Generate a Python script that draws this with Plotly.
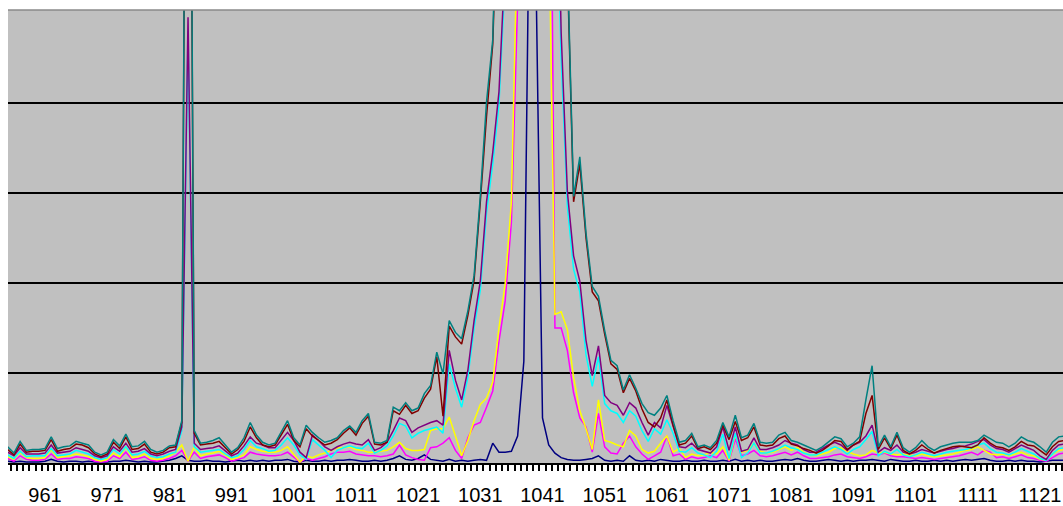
import plotly.graph_objects as go

# Channel / category positions (one point per integer step)
channels = list(range(955, 1126))

# Series values (units: gridlines every 100)
navy = [
    2, 1, 2, 1, 1, 1, 2, 4, 2, 1,
    2, 2, 1, 2, 1, 1, 1, 2, 2, 3,
    2, 1, 2, 1, 1, 2, 3, 5, 8, 3,
    2, 2, 3, 2, 2, 1, 2, 3, 2, 3,
    2, 3, 2, 3, 3, 4, 2, 1, 3, 2,
    2, 3, 2, 3, 3, 4, 3, 2, 2, 3,
    2, 3, 5, 8, 4, 3, 5, 9, 4, 3,
    2, 4, 2, 3, 2, 3, 4, 3, 22, 12,
    12, 13, 30, 113, 700, 520, 50, 20, 11, 6,
    4, 3, 3, 4, 5, 8, 3, 2, 3, 2,
    8, 3, 2, 3, 2, 4, 3, 2, 2, 3,
    2, 2, 3, 2, 2, 3, 2, 4, 2, 3,
    2, 3, 2, 2, 3, 4, 3, 5, 3, 2,
    2, 3, 4, 3, 2, 3, 2, 3, 3, 4,
    3, 2, 4, 3, 2, 2, 3, 2, 2, 3,
    2, 3, 2, 3, 4, 3, 4, 5, 3, 2,
    2, 3, 2, 3, 2, 2, 1, 2, 3, 3,
    3,
]

magenta = [
    5, 2, 8, 4, 3, 3, 4, 10, 4, 5,
    5, 7, 6, 5, 2, 1, 2, 8, 5, 12,
    4, 5, 7, 3, 2, 3, 5, 8, 14, 2,
    12, 5, 7, 8, 9, 6, 2, 4, 6, 12,
    10, 9, 8, 8, 9, 12, 6, 1, 5, 3,
    5, 7, 10, 12, 12, 13, 10, 9, 8, 8,
    7, 8, 10, 20, 9, 6, 4, 3, 17, 18,
    22, 28, 14, 5, 28, 42, 45, 62, 80, 135,
    180, 268, 570, 1000, 1000, 1000, 1000, 1000, 150, 150,
    125, 78, 50, 40, 12, 55, 18, 11, 10, 22,
    30, 18, 10, 4, 8, 12, 30, 8, 10, 4,
    7, 5, 6, 8, 6, 14, 2, 27, 8, 10,
    14, 8, 7, 8, 10, 12, 9, 12, 8, 5,
    5, 6, 7, 9, 10, 7, 6, 5, 7, 10,
    9, 11, 8, 7, 7, 6, 5, 6, 5, 4,
    5, 6, 7, 8, 10, 12, 9, 14, 12, 6,
    7, 5, 7, 9, 6, 5, 3, 2, 6, 10,
    11,
]

yellow = [
    7, 4, 12, 6, 5, 5, 6, 15, 6, 7,
    8, 10, 9, 7, 4, 2, 4, 11, 7, 18,
    6, 7, 10, 5, 4, 5, 8, 12, 20, 2,
    18, 8, 10, 11, 13, 9, 4, 6, 9, 18,
    15, 13, 12, 12, 14, 18, 10, 1, 8, 6,
    9, 11, 14, 17, 17, 18, 15, 14, 12, 12,
    13, 14, 18, 23, 16, 14, 14, 15, 36, 38,
    38, 51, 30, 8, 25, 47, 65, 72, 90, 150,
    199, 290, 600, 1000, 1000, 1000, 1000, 620, 165, 168,
    148, 95, 58, 38, 15, 70, 25, 23, 20, 18,
    36, 30, 15, 11, 13, 22, 30, 12, 16, 6,
    10, 8, 9, 12, 10, 18, 3, 31, 12, 14,
    22, 13, 11, 12, 15, 18, 14, 17, 12, 9,
    8, 10, 12, 16, 17, 13, 10, 8, 9, 14,
    11, 12, 10, 9, 10, 9, 8, 10, 8, 7,
    8, 9, 10, 12, 14, 15, 18, 14, 10, 9,
    10, 8, 10, 12, 9, 8, 4, 3, 10, 14,
    15,
]

cyan = [
    9, 5, 13, 7, 8, 8, 8, 16, 8, 9,
    10, 14, 12, 10, 6, 4, 6, 15, 10, 18,
    9, 10, 13, 8, 6, 7, 10, 12, 36, 480,
    18, 12, 13, 14, 15, 10, 6, 8, 15, 25,
    18, 16, 13, 14, 20, 28, 20, 9, 4, 26,
    20, 14, 6, 14, 17, 19, 17, 16, 22, 11,
    14, 19, 30, 44, 41, 28, 33, 36, 38, 40,
    33, 110, 83, 62, 95, 150, 192, 278, 332, 398,
    540, 900, 1200, 1200, 1200, 1200, 1200, 1200, 700, 450,
    285, 215, 190, 120, 85, 118, 66, 58, 55, 45,
    58, 52, 36, 24, 38, 32, 48, 33, 13, 12,
    17, 11, 9, 6, 13, 32, 5, 33, 6, 11,
    22, 11, 11, 13, 16, 20, 17, 15, 11, 9,
    9, 12, 15, 18, 15, 10, 15, 18, 26, 35,
    8, 13, 10, 15, 9, 7, 9, 12, 10, 8,
    10, 12, 13, 14, 15, 17, 20, 22, 16, 12,
    11, 9, 12, 16, 13, 10, 5, 3, 10, 16,
    17,
]

purple = [
    12, 8, 17, 10, 10, 10, 11, 20, 11, 12,
    13, 17, 15, 13, 8, 6, 8, 18, 13, 22,
    12, 13, 16, 10, 8, 10, 13, 15, 40, 495,
    22, 15, 16, 17, 19, 13, 8, 11, 19, 29,
    22, 20, 17, 17, 25, 34, 25, 12, 6, 31,
    25, 18, 14, 18, 21, 23, 21, 20, 26, 14,
    17, 23, 36, 50, 47, 34, 39, 42, 45, 47,
    42, 125, 92, 70, 103, 158, 202, 290, 345, 412,
    560, 900, 1200, 1200, 1200, 1200, 1200, 1200, 800, 478,
    301, 230, 202, 136, 97, 130, 75, 67, 64, 53,
    67, 61, 45, 31, 45, 39, 64, 42, 18, 17,
    22, 15, 13, 11, 18, 40, 14, 40, 13, 15,
    28, 15, 15, 17, 20, 25, 22, 20, 15, 12,
    12, 16, 20, 23, 20, 14, 20, 23, 30, 42,
    12, 17, 14, 20, 12, 10, 12, 15, 13, 11,
    13, 15, 16, 18, 19, 21, 24, 26, 20, 16,
    15, 12, 16, 20, 17, 14, 8, 4, 14, 20,
    21,
]

maroon = [
    15, 9, 21, 12, 13, 13, 14, 26, 13, 15,
    16, 21, 20, 17, 10, 7, 10, 23, 16, 29,
    15, 16, 21, 12, 10, 12, 17, 18, 45, 1300,
    33, 20, 21, 22, 24, 17, 10, 15, 24, 40,
    28, 20, 18, 20, 31, 43, 25, 18, 38, 30,
    25, 20, 22, 26, 33, 39, 31, 44, 52, 21,
    20, 23, 58, 54, 64, 55, 58, 72, 82, 118,
    52, 152, 140, 132, 164, 203, 290, 385, 465, 680,
    1400, 1400, 1400, 1400, 1400, 1400, 1400, 1400, 1400, 1400,
    550, 290, 332, 250, 190, 180, 143, 110, 104, 78,
    94, 80, 60, 45, 40, 50, 70, 42, 20, 22,
    30, 16, 18, 15, 22, 42, 26, 46, 25, 28,
    40, 20, 19, 20, 27, 30, 21, 19, 16, 14,
    11, 14, 19, 25, 24, 15, 20, 24, 55, 75,
    15, 28, 16, 31, 14, 10, 14, 20, 15, 11,
    14, 16, 18, 19, 18, 17, 20, 28, 22, 18,
    17, 14, 18, 24, 20, 19, 14, 9, 18, 24,
    25,
]

teal = [
    18, 11, 24, 14, 15, 15, 16, 29, 16, 18,
    19, 24, 22, 20, 12, 9, 12, 26, 19, 32,
    18, 19, 24, 15, 12, 14, 19, 20, 47, 1340,
    36, 22, 23, 25, 28, 20, 12, 17, 28, 45,
    31, 23, 20, 22, 34, 47, 28, 20, 42, 34,
    28, 23, 25, 28, 36, 41, 34, 47, 55, 23,
    22, 25, 62, 58, 67, 58, 61, 77, 86, 123,
    99, 158, 145, 138, 169, 208, 296, 401, 470, 700,
    1500, 1500, 1500, 1500, 1500, 1500, 1500, 1500, 1500, 1500,
    560, 296, 340, 255, 196, 185, 147, 114, 108, 81,
    98, 83, 66, 56, 53, 61, 75, 47, 23, 25,
    33, 18, 20, 17, 25, 45, 29, 53, 28, 31,
    44, 23, 22, 23, 31, 34, 25, 23, 20, 17,
    14, 18, 23, 29, 27, 18, 22, 29, 70, 108,
    18, 31, 18, 34, 17, 12, 17, 25, 18, 14,
    18, 20, 22, 23, 23, 23, 25, 31, 27, 23,
    22, 18, 22, 29, 25, 23, 18, 12, 23, 29,
    30,
]

label_ticks = list(range(961, 1122, 10))
label_text = [str(v) for v in label_ticks]
gridlines = [100, 200, 300, 400]

# Drawn in order: later series sit on top
series = [
    ("navy", navy, "#000080"),
    ("magenta", magenta, "#FF00FF"),
    ("yellow", yellow, "#FFFF00"),
    ("cyan", cyan, "#00FFFF"),
    ("purple", purple, "#800080"),
    ("maroon", maroon, "#800000"),
    ("teal", teal, "#008080"),
]

fig = go.Figure()
for name, vals, color in series:
    fig.add_trace(go.Scatter(
        x=channels, y=vals, mode="lines", name=name,
        line=dict(color=color, width=1.5),
        hoverinfo="skip",
    ))

half_steps = [c + 0.5 for c in channels[:-1]]

fig.update_layout(
    width=1063, height=506,
    margin=dict(l=8, r=0, t=10, b=43),
    paper_bgcolor="white",
    plot_bgcolor="#C0C0C0",
    showlegend=False,
    xaxis=dict(
        range=[955.05, 1124.7],
        tickmode="array", tickvals=label_ticks, ticktext=label_text,
        ticks="", showgrid=False, zeroline=False,
        showline=True, linecolor="black", linewidth=2,
        tickfont=dict(family="Liberation Sans, Arial, sans-serif", size=20, color="black"),
        ticklabelstandoff=13,
        minor=dict(tickmode="array", tickvals=half_steps, ticks="outside",
                   ticklen=6, tickwidth=1.5, tickcolor="black", showgrid=False),
    ),
    yaxis=dict(
        range=[0, 503],
        tickmode="array", tickvals=gridlines,
        showticklabels=False, ticks="",
        showgrid=True, gridcolor="black", gridwidth=1.5,
        zeroline=False, showline=False,
    ),
    shapes=[dict(type="line", xref="paper", yref="paper", x0=0, x1=1, y0=1, y1=1,
                 line=dict(color="#8a8a8a", width=1.5))],
)

fig.write_html("out.html")
